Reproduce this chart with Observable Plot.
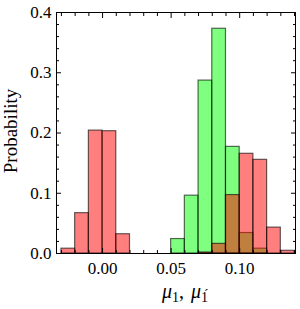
<!DOCTYPE html>
<html>
<head>
<meta charset="utf-8">
<script src="https://cdn.jsdelivr.net/npm/d3@7"></script>
<script src="https://cdn.jsdelivr.net/npm/@observablehq/plot@0.6"></script>
<style>
  html, body { margin: 0; padding: 0; background: #fff; }
  svg { display: block; }
</style>
</head>
<body>
<div id="chart"></div>
<script>
// Histogram bins (bin start) and probabilities
const binWidth = 0.01;
const greenBinStart = [0.05, 0.06, 0.07, 0.08, 0.09, 0.10, 0.11];
const greenProb     = [0.024, 0.096, 0.287, 0.373, 0.177, 0.034, 0.008];
const redBinStart = [-0.03, -0.02, -0.01, 0.00, 0.01, 0.07, 0.08, 0.09, 0.10, 0.11, 0.12, 0.13];
const redProb     = [0.008, 0.067, 0.204, 0.203, 0.032, 0.0017, 0.016, 0.097, 0.1655, 0.1555, 0.043, 0.0045];

// Ticks
const xMajorTicks = [0.00, 0.05, 0.10];
const xMinorTicks = [-0.03, -0.02, -0.01, 0.01, 0.02, 0.03, 0.04, 0.06, 0.07, 0.08, 0.09, 0.11, 0.12, 0.13, 0.14];
const yMajorTicks = [0.0, 0.1, 0.2, 0.3, 0.4];
const yMinorTicks = [0.02, 0.04, 0.06, 0.08, 0.12, 0.14, 0.16, 0.18, 0.22, 0.24, 0.26, 0.28, 0.32, 0.34, 0.36, 0.38];

const green = greenBinStart.map((x, i) => ({x1: x, x2: x + binWidth, y: greenProb[i]}));
const red = redBinStart.map((x, i) => ({x1: x, x2: x + binWidth, y: redProb[i]}));

const font = "Liberation Serif, Times New Roman, serif";
const blank = () => "";
const tickFont = 17;

const svg = Plot.plot({
  width: 300,
  height: 309,
  marginLeft: 56,
  marginRight: 5,
  marginTop: 12,
  marginBottom: 56,
  style: {fontFamily: font, fontSize: tickFont + "px", color: "black", background: "white"},
  x: {domain: [-0.0336, 0.1407]},
  y: {domain: [0, 0.4]},
  marks: [
    Plot.rectY(green, {x1: "x1", x2: "x2", y: "y", fill: "#00ff00", fillOpacity: 0.5, stroke: "black", strokeOpacity: 0.6, strokeWidth: 1.2}),
    Plot.rectY(red, {x1: "x1", x2: "x2", y: "y", fill: "#ff0000", fillOpacity: 0.5, stroke: "black", strokeOpacity: 0.6, strokeWidth: 1.2}),
    Plot.frame({stroke: "black", strokeWidth: 1}),
    // labels (no ticks)
    Plot.axisX({anchor: "bottom", ticks: xMajorTicks, tickSize: 0, tickPadding: 8, tickFormat: d3.format(".2f"), label: null, fontSize: tickFont, fontFamily: font}),
    Plot.axisY({anchor: "left", ticks: yMajorTicks, tickSize: 0, tickPadding: 5, tickFormat: d3.format(".1f"), label: null, fontSize: tickFont, fontFamily: font}),
    // inward ticks on all four sides
    Plot.axisX({anchor: "bottom", ticks: xMajorTicks, tickSize: -5, tickFormat: blank, label: null}),
    Plot.axisX({anchor: "bottom", ticks: xMinorTicks, tickSize: -3, tickFormat: blank, label: null}),
    Plot.axisX({anchor: "top", ticks: xMajorTicks, tickSize: -5, tickFormat: blank, label: null}),
    Plot.axisX({anchor: "top", ticks: xMinorTicks, tickSize: -3, tickFormat: blank, label: null}),
    Plot.axisY({anchor: "left", ticks: yMajorTicks, tickSize: -5, tickFormat: blank, label: null}),
    Plot.axisY({anchor: "left", ticks: yMinorTicks, tickSize: -3, tickFormat: blank, label: null}),
    Plot.axisY({anchor: "right", ticks: yMajorTicks, tickSize: -5, tickFormat: blank, label: null}),
    Plot.axisY({anchor: "right", ticks: yMinorTicks, tickSize: -3, tickFormat: blank, label: null})
  ]
});

const s = d3.select(svg);
// y label
s.append("text")
  .attr("transform", "translate(17,131) rotate(-90)")
  .attr("text-anchor", "middle")
  .attr("font-family", font)
  .attr("font-size", 19)
  .attr("fill", "black")
  .text("Probability");

// x label: μ1, μ1´
const xl = s.append("text")
  .attr("x", 185)
  .attr("y", 298)
  .attr("text-anchor", "middle")
  .attr("font-family", font)
  .attr("font-size", 20)
  .attr("fill", "black");
xl.append("tspan").attr("font-style", "italic").text("μ");
xl.append("tspan").attr("font-size", 14).attr("dy", 4).text("1");
xl.append("tspan").attr("dy", -4).text(", ");
xl.append("tspan").attr("font-style", "italic").attr("dx", 2).text("μ");
xl.append("tspan").attr("font-size", 14).attr("dy", 4).text("1\u0301");

document.getElementById("chart").appendChild(svg);
</script>
</body>
</html>
